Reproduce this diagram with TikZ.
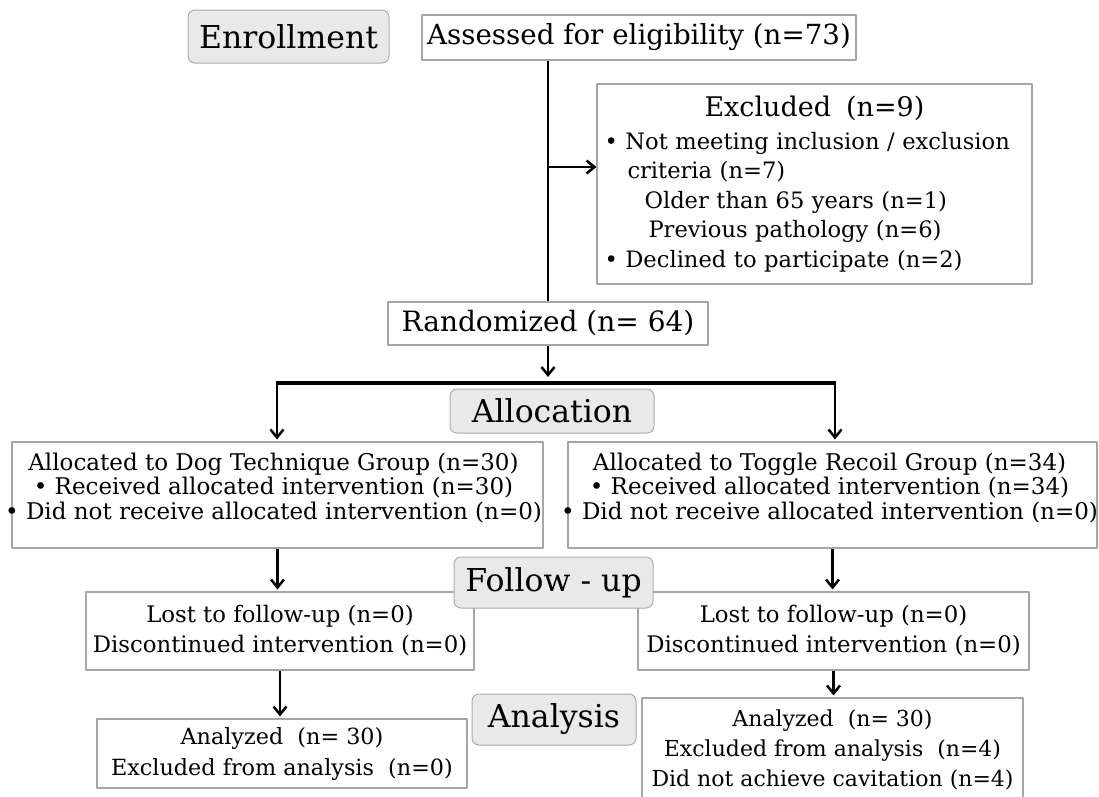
\documentclass[tikz,border=0pt]{standalone}
\usepackage{fontspec}
\setmainfont{DejaVu Serif}
\usetikzlibrary{arrows.meta}
\newcommand\fsz[2]{\fontsize{#1pt}{#2pt}\selectfont}

\begin{document}
\begin{tikzpicture}[x=1pt, y=-1pt, line join=round,
    phase/.style={draw=gray!65, fill=gray!17, rounded corners=7pt, line width=1pt, inner sep=0pt, font=\fsz{31.5}{36}},
    box/.style={draw=gray!70, fill=white, line width=1.1pt, inner sep=0pt, align=center},
    txt/.style={inner sep=0pt, align=center},
    link/.style={line width=2.6pt},
    arr/.style={line width=2.5pt, shorten >=2pt, -{Straight Barb[length=8pt,width=13pt,line width=2.5pt]}}]
  \useasboundingbox (0,0) rectangle (1099,796);

  % enrollment
  \node[phase, minimum width=201, minimum height=53] (enrol) at (288.5,36.5) {Enrollment};
  \node[box, minimum width=434, minimum height=45, font=\fsz{27.7}{32}] (assess) at (639,37.5) {Assessed for eligibility (n=73)};
  \node[box, minimum width=320, minimum height=43, font=\fsz{28}{32}] (rand) at (548,323.5) {Randomized (n= 64)};
  \node[box, minimum width=435, minimum height=200, text width=420pt, align=left, font=\fsz{22.6}{29.5}] (excl) at (814.5,184)
    {\makebox[420pt]{\fsz{27}{30}Excluded~~(n=9)}\\[3pt]
     • Not meeting inclusion / exclusion\\
     \hspace*{23pt}criteria (n=7)\\
     \hspace*{40pt}Older than 65 years (n=1)\\
     \hspace*{44pt}Previous pathology (n=6)\\
     • Declined to participate (n=2)};

  \coordinate (branch) at (rand.north |- 0,167);
  \draw[link] (rand.north |- assess.south) -- (rand.north);
  \draw[arr, shorten >=0pt] (branch) -- (branch -| excl.west);

  % allocation
  \coordinate (splitL) at (277,383);
  \coordinate (splitR) at (835,383);
  \draw[arr, shorten >=6pt] (rand.south) -- (rand.south |- splitL);
  \draw[line width=3.6pt] ([xshift=-1.25pt]splitL) -- ([xshift=1.25pt]splitR);
  \node[phase, minimum width=204, minimum height=44] (alloc) at (552,411) {Allocation};

  \node[box, minimum width=531, minimum height=106] (dog) at (277.5,495) {};
  \node[txt, anchor=north, font=\fsz{23}{24.5}] (dogtxt) at ([xshift=-4pt, yshift=-11pt]dog.north)
    {Allocated to Dog Technique Group (n=30)\\
     • Received allocated intervention (n=30)\\
     • Did not receive allocated intervention (n=0)};
  \node[box, minimum width=529, minimum height=106] (toggle) at (832.5,495) {};
  \node[txt, anchor=north, font=\fsz{23}{24.5}] (toggletxt) at ([xshift=-3pt, yshift=-11pt]toggle.north)
    {Allocated to Toggle Recoil Group (n=34)\\
     • Received allocated intervention (n=34)\\
     • Did not receive allocated intervention (n=0)};

  \draw[arr] (splitL) -- (splitL |- dog.north);
  \draw[arr] (splitR) -- (splitR |- toggle.north);

  % follow-up
  \node[box, minimum width=388, minimum height=78, font=\fsz{22.8}{30}] (lostL) at (280,631)
    {Lost to follow-up (n=0)\\ Discontinued intervention (n=0)};
  \node[box, minimum width=391, minimum height=78, font=\fsz{22.8}{30}] (lostR) at (833.5,631)
    {Lost to follow-up (n=0)\\ Discontinued intervention (n=0)};
  \node[phase, minimum width=199, minimum height=51] (follow) at (553.5,582.5) {Follow - up};

  \draw[arr] (dog.south) -- (dog.south |- lostL.north);
  \draw[arr] (toggle.south) -- (toggle.south |- lostR.north);

  % analysis
  \node[phase, minimum width=164, minimum height=51] (analysis) at (554,719.5) {Analysis};
  \node[box, minimum width=370, minimum height=69, font=\fsz{22.3}{31}] (anaL) at (282,753.5)
    {Analyzed \ (n= 30)\\ Excluded from analysis \ (n=0)};
  \node[box, minimum width=381, minimum height=104, font=\fsz{22}{30}] (anaR) at (832.5,750)
    {Analyzed \ (n= 30)\\ Excluded from analysis \ (n=4)\\ Did not achieve cavitation (n=4)};

  \draw[arr] (lostL.south) -- (lostL.south |- anaL.north);
  \draw[arr] (lostR.south) -- (lostR.south |- anaR.north);
\end{tikzpicture}
\end{document}
